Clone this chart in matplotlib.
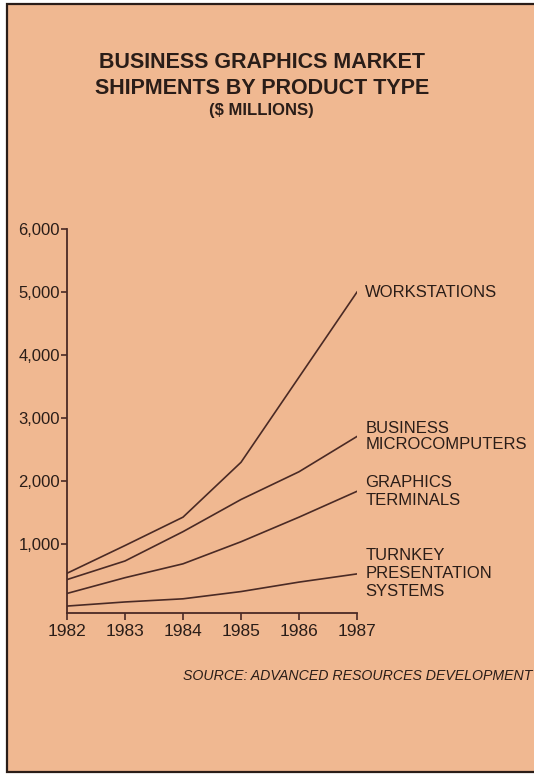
import matplotlib.pyplot as plt
from matplotlib.patches import Rectangle

plt.rcParams['font.family'] = ['Liberation Sans', 'DejaVu Sans']

years = [1982, 1983, 1984, 1985, 1986, 1987]
workstations = [540, 980, 1430, 2300, 3650, 5000]
microcomputers = [440, 735, 1200, 1710, 2150, 2710]
terminals = [220, 470, 690, 1040, 1430, 1840]
turnkey = [20, 85, 135, 250, 400, 530]

series = [
    (workstations, 'WORKSTATIONS', 1.2),
    (microcomputers, 'BUSINESS\nMICROCOMPUTERS', 1.05),
    (terminals, 'GRAPHICS\nTERMINALS', 1.25),
    (turnkey, 'TURNKEY\nPRESENTATION\nSYSTEMS', 1.25),
]
yticks = [1000, 2000, 3000, 4000, 5000, 6000]

paper = '#f0b891'
ink = '#2a1d18'
line_col = '#4a2a25'

W, H = 534, 774
fig = plt.figure(figsize=(W / 100, H / 100), dpi=100, facecolor='white')

# page with a dark rule along the left, top and bottom
fig.patches.append(Rectangle((7 / W, 2 / H), 1.2, 768 / H, transform=fig.transFigure,
                             facecolor=paper, edgecolor=ink, linewidth=1.6, zorder=-5))

ax = fig.add_axes([67 / W, 1 - 613 / H, (357 - 67) / W, (613 - 229) / H])
ax.set_facecolor('none')
ax.set_zorder(2)

for vals, name, spacing in series:
    ax.plot(years, vals, color=line_col, lw=1.2, solid_joinstyle='miter')
    ax.annotate(name, (years[-1], vals[-1]), xytext=(6, 0), textcoords='offset points',
                ha='left', va='center', fontsize=12, color=ink, linespacing=spacing,
                annotation_clip=False)

ax.set_xlim(1982, 1987)
ax.set_ylim(-90, 6000)
ax.set_xticks(years)
ax.set_xticklabels([str(y) for y in years])
ax.set_yticks(yticks)
ax.set_yticklabels([f'{v:,}' for v in yticks])

for side in ['top', 'right']:
    ax.spines[side].set_visible(False)
for side in ['left', 'bottom']:
    ax.spines[side].set_color(line_col)
    ax.spines[side].set_linewidth(1.3)
ax.tick_params(axis='y', direction='out', length=4, width=1.2, pad=1,
               colors=line_col, labelcolor=ink, labelsize=12)
ax.tick_params(axis='x', direction='out', length=5, width=1.2, pad=3,
               colors=line_col, labelcolor=ink, labelsize=12.5)

fig.text(0.49, 1 - 62 / H, 'BUSINESS GRAPHICS MARKET', ha='center', va='center',
         fontsize=15.5, fontweight='bold', color=ink)
fig.text(0.49, 1 - 89 / H, 'SHIPMENTS BY PRODUCT TYPE', ha='center', va='center',
         fontsize=15.5, fontweight='bold', color=ink)
fig.text(0.49, 1 - 111 / H, '($ MILLIONS)', ha='center', va='center',
         fontsize=12, fontweight='bold', color=ink)

fig.text(532 / W, 1 - 676 / H, 'SOURCE: ADVANCED RESOURCES DEVELOPMENT', ha='right',
         va='center', fontsize=10.2, style='italic', color=ink)

fig.savefig('out.png', dpi=100, facecolor='white')
